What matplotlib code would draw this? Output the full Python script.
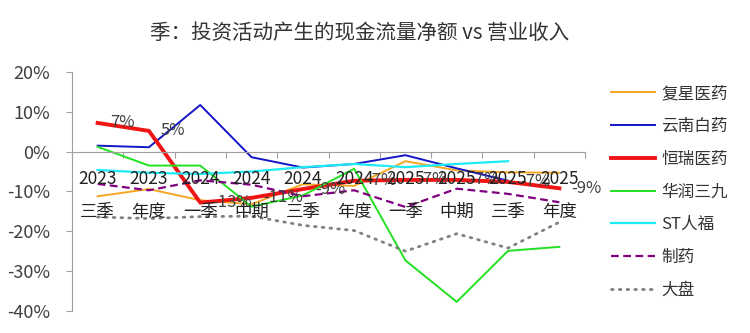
import numpy as np
import matplotlib
matplotlib.use("Agg")
import matplotlib.pyplot as plt
from matplotlib import transforms

plt.rcParams['font.family'] = ['Noto Sans CJK SC', 'DejaVu Sans']
plt.rcParams['font.weight'] = 'light'
plt.rcParams['axes.unicode_minus'] = False

# data (% of revenue)
years = ['2023', '2023', '2024', '2024', '2024', '2024', '2025', '2025', '2025', '2025']
periods = ['三季', '年度', '一季', '中期', '三季', '年度', '一季', '中期', '三季', '年度']

fosun = [-11.2, -9.4, -12.2, -13.2, -8.2, -8.6, -2.4, -4.7, -5.2, -5.3]
baiyao = [1.5, 1.1, 11.7, -1.4, -4.0, -3.1, -0.9, -4.2, -7.3, np.nan]
hengrui = [7.2, 5.2, -12.8, -11.6, -9.4, -7.3, -7.1, -7.1, -7.6, -9.2]
hengrui_labels = ['7%', '5%', '-13%', '-11%', '-9%', '-7%', '-7%', '-7%', '-7%', '-9%']
cr999 = [1.2, -3.5, -3.5, -13.8, -11.0, -4.3, -27.3, -37.7, -24.9, -23.9]
renfu = [-4.6, -5.3, -5.6, -5.0, -3.9, -3.1, -3.9, -3.1, -2.4, np.nan]
pharma = [-8.1, -9.7, -7.2, -8.3, -11.2, -9.7, -13.9, -9.3, -10.6, -12.7]
market = [-16.4, -16.8, -16.3, -16.2, -18.5, -19.8, -25.0, -20.6, -24.2, -17.7]

x = np.arange(len(periods))

fig = plt.figure(figsize=(7.5, 3.33), dpi=100)
ax = fig.add_axes([0.096, 0.066, 0.684, 0.718])

ax.plot(x, fosun, color='#F5A623', lw=1.4, label='复星医药')
ax.plot(x, baiyao, color='#1414C8', lw=1.4, label='云南白药')
ax.plot(x, hengrui, color='#F01414', lw=2.8, label='恒瑞医药')
ax.plot(x, cr999, color='#22E022', lw=1.4, label='华润三九')
ax.plot(x, renfu, color='#1EEBF5', lw=1.6, label='ST人福')
ax.plot(x, pharma, color='#800080', lw=1.6, ls=(0, (3.5, 2)), label='制药')
ax.plot(x, market, color='#808080', lw=2.0, ls=(0, (0.6, 2.2)),
        dash_capstyle='round', label='大盘')

# data labels for 恒瑞医药
off = transforms.offset_copy(ax.transData, fig=fig, x=12, y=0, units='dots')
for xi, yi, lab in zip(x, hengrui, hengrui_labels):
    ax.text(xi, yi, lab, transform=off, ha='left', va='center',
            fontsize=12, color='#404040')

ax.set_xlim(-0.5, 9.5)
ax.set_ylim(-40, 20)
ax.set_yticks(np.arange(-40, 21, 10))
ax.set_yticklabels([f'{v}%' for v in range(-40, 21, 10)])
ax.tick_params(axis='y', length=4, color='#A0A0A0', labelsize=13,
               labelcolor='#404040', pad=12)

# category axis sits at 0
ax.spines['bottom'].set_position(('data', 0))
ax.spines['bottom'].set_color('#A0A0A0')
ax.spines['left'].set_color('#A0A0A0')
ax.spines['top'].set_visible(False)
ax.spines['right'].set_visible(False)
ax.set_xticks(np.arange(-0.5, 10, 1))
ax.set_xticklabels([])
ax.tick_params(axis='x', length=4, color='#A0A0A0', direction='out')

for xi, yr, pr in zip(x, years, periods):
    ax.text(xi, -6.8, yr, ha='center', va='center', fontsize=12.5, color='#222222')
    ax.text(xi, -15.2, pr, ha='center', va='center', fontsize=12.5, color='#222222')

fig.text(0.48, 0.90, '季：投资活动产生的现金流量净额 vs 营业收入',
         ha='center', va='center', fontsize=14.8, color='#333333')

fig.legend(loc='upper left', bbox_to_anchor=(0.795, 0.79), frameon=False,
           fontsize=12, handlelength=2.6, labelspacing=0.95, handletextpad=0.4,
           labelcolor='#333333')

fig.savefig('out.png', dpi=100)
